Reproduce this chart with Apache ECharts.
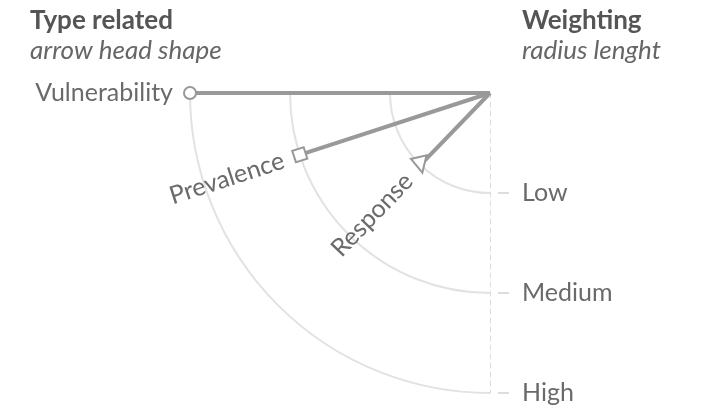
<!DOCTYPE html>
<html>
<head>
<meta charset="utf-8">
<script src="https://cdn.jsdelivr.net/npm/echarts@6/dist/echarts.min.js"></script>
<style>
html,body{margin:0;padding:0;background:#fff;}
#chart{width:705px;height:411px;}
</style>
</head>
<body>
<div id="chart"></div>
<script>
// Data
const categories = ['Vulnerability', 'Prevalence', 'Response'];
const weighting = [3, 2, 1];            // radius level (Low=1, Medium=2, High=3)
const anglesFromVertical = [90, 72, 44]; // degrees, 0 = straight down, 90 = left
const levelLabels = ['', 'Low', 'Medium', 'High'];
const levelValues = [1, 2, 3];
const shapes = ['circle', 'rect', 'triangle'];

const FONT = 'Lato';
const LINE_COLOR = '#999999';
const TEXT_COLOR = '#6a6a6a';

const symbolRotations = { circle: 0, rect: 18, triangle: 193 };
const symbolSizes = { circle: 12, rect: 12, triangle: 16 };

const CENTER = [490, 93];
const RADIUS = 300;

const series = categories.map((name, i) => {
  const shape = shapes[i];
  const lineAngle = 90 - anglesFromVertical[i];
  return {
    type: 'line',
    name: name,
    coordinateSystem: 'polar',
    polarIndex: 1,
    clip: false,
    lineStyle: { color: LINE_COLOR, width: 4 },
    itemStyle: { color: '#ffffff', borderColor: LINE_COLOR, borderWidth: 2 },
    z: 5,
    data: [
      { value: [0, anglesFromVertical[i]], symbol: 'none', label: { show: false } },
      {
        value: [weighting[i], anglesFromVertical[i]],
        symbol: shape,
        symbolSize: symbolSizes[shape],
        symbolRotate: symbolRotations[shape],
        label: {
          show: true,
          formatter: name,
          position: 'inside',
          align: 'right',
          verticalAlign: 'middle',
          rotate: lineAngle,
          padding: [0, 17, 0, 0],
          fontFamily: FONT,
          fontSize: 25,
          color: TEXT_COLOR
        }
      }
    ],
    animation: false
  };
});

const hiddenAxis = {
  axisLine: { show: false },
  axisTick: { show: false },
  axisLabel: { show: false },
  splitLine: { show: false }
};

const chart = echarts.init(document.getElementById('chart'), null, { renderer: 'canvas' });
chart.setOption({
  animation: false,
  title: [
    {
      text: 'Type related',
      subtext: 'arrow head shape',
      left: 30, top: 8,
      padding: 0,
      itemGap: 4,
      textStyle: { fontFamily: FONT, fontSize: 26, fontWeight: 'bold', color: '#555555' },
      subtextStyle: { fontFamily: FONT, fontSize: 26, fontStyle: 'italic', color: '#666666' }
    },
    {
      text: 'Weighting',
      subtext: 'radius lenght',
      left: 522, top: 8,
      padding: 0,
      itemGap: 4,
      textStyle: { fontFamily: FONT, fontSize: 26, fontWeight: 'bold', color: '#555555' },
      subtextStyle: { fontFamily: FONT, fontSize: 26, fontStyle: 'italic', color: '#666666' }
    }
  ],
  polar: [
    { center: CENTER, radius: RADIUS },
    { center: CENTER, radius: RADIUS }
  ],
  angleAxis: [
    Object.assign({
      polarIndex: 0,
      type: 'value',
      min: 0, max: 90,
      startAngle: 270,
      endAngle: 180,
      clockwise: true
    }, hiddenAxis),
    Object.assign({
      polarIndex: 1,
      type: 'value',
      min: 0, max: 360,
      startAngle: 270,
      clockwise: true
    }, hiddenAxis)
  ],
  radiusAxis: [
    {
      polarIndex: 0,
      type: 'value',
      min: 0, max: 3, interval: 1,
      axisLine: { show: true, lineStyle: { color: '#dddddd', width: 1, type: [5, 4] } },
      axisTick: { show: true, customValues: levelValues, length: 19, lineStyle: { color: '#dddddd', width: 2, type: [0, 8, 11, 60] } },
      axisLabel: {
        show: true,
        customValues: levelValues,
        margin: 32,
        formatter: v => levelLabels[v] || '',
        fontFamily: FONT,
        fontSize: 25,
        color: TEXT_COLOR
      },
      splitLine: { show: true, lineStyle: { color: '#e2e2e2', width: 2 } }
    },
    Object.assign({
      polarIndex: 1,
      type: 'value',
      min: 0, max: 3
    }, hiddenAxis)
  ],
  series: series
});
</script>
</body>
</html>
